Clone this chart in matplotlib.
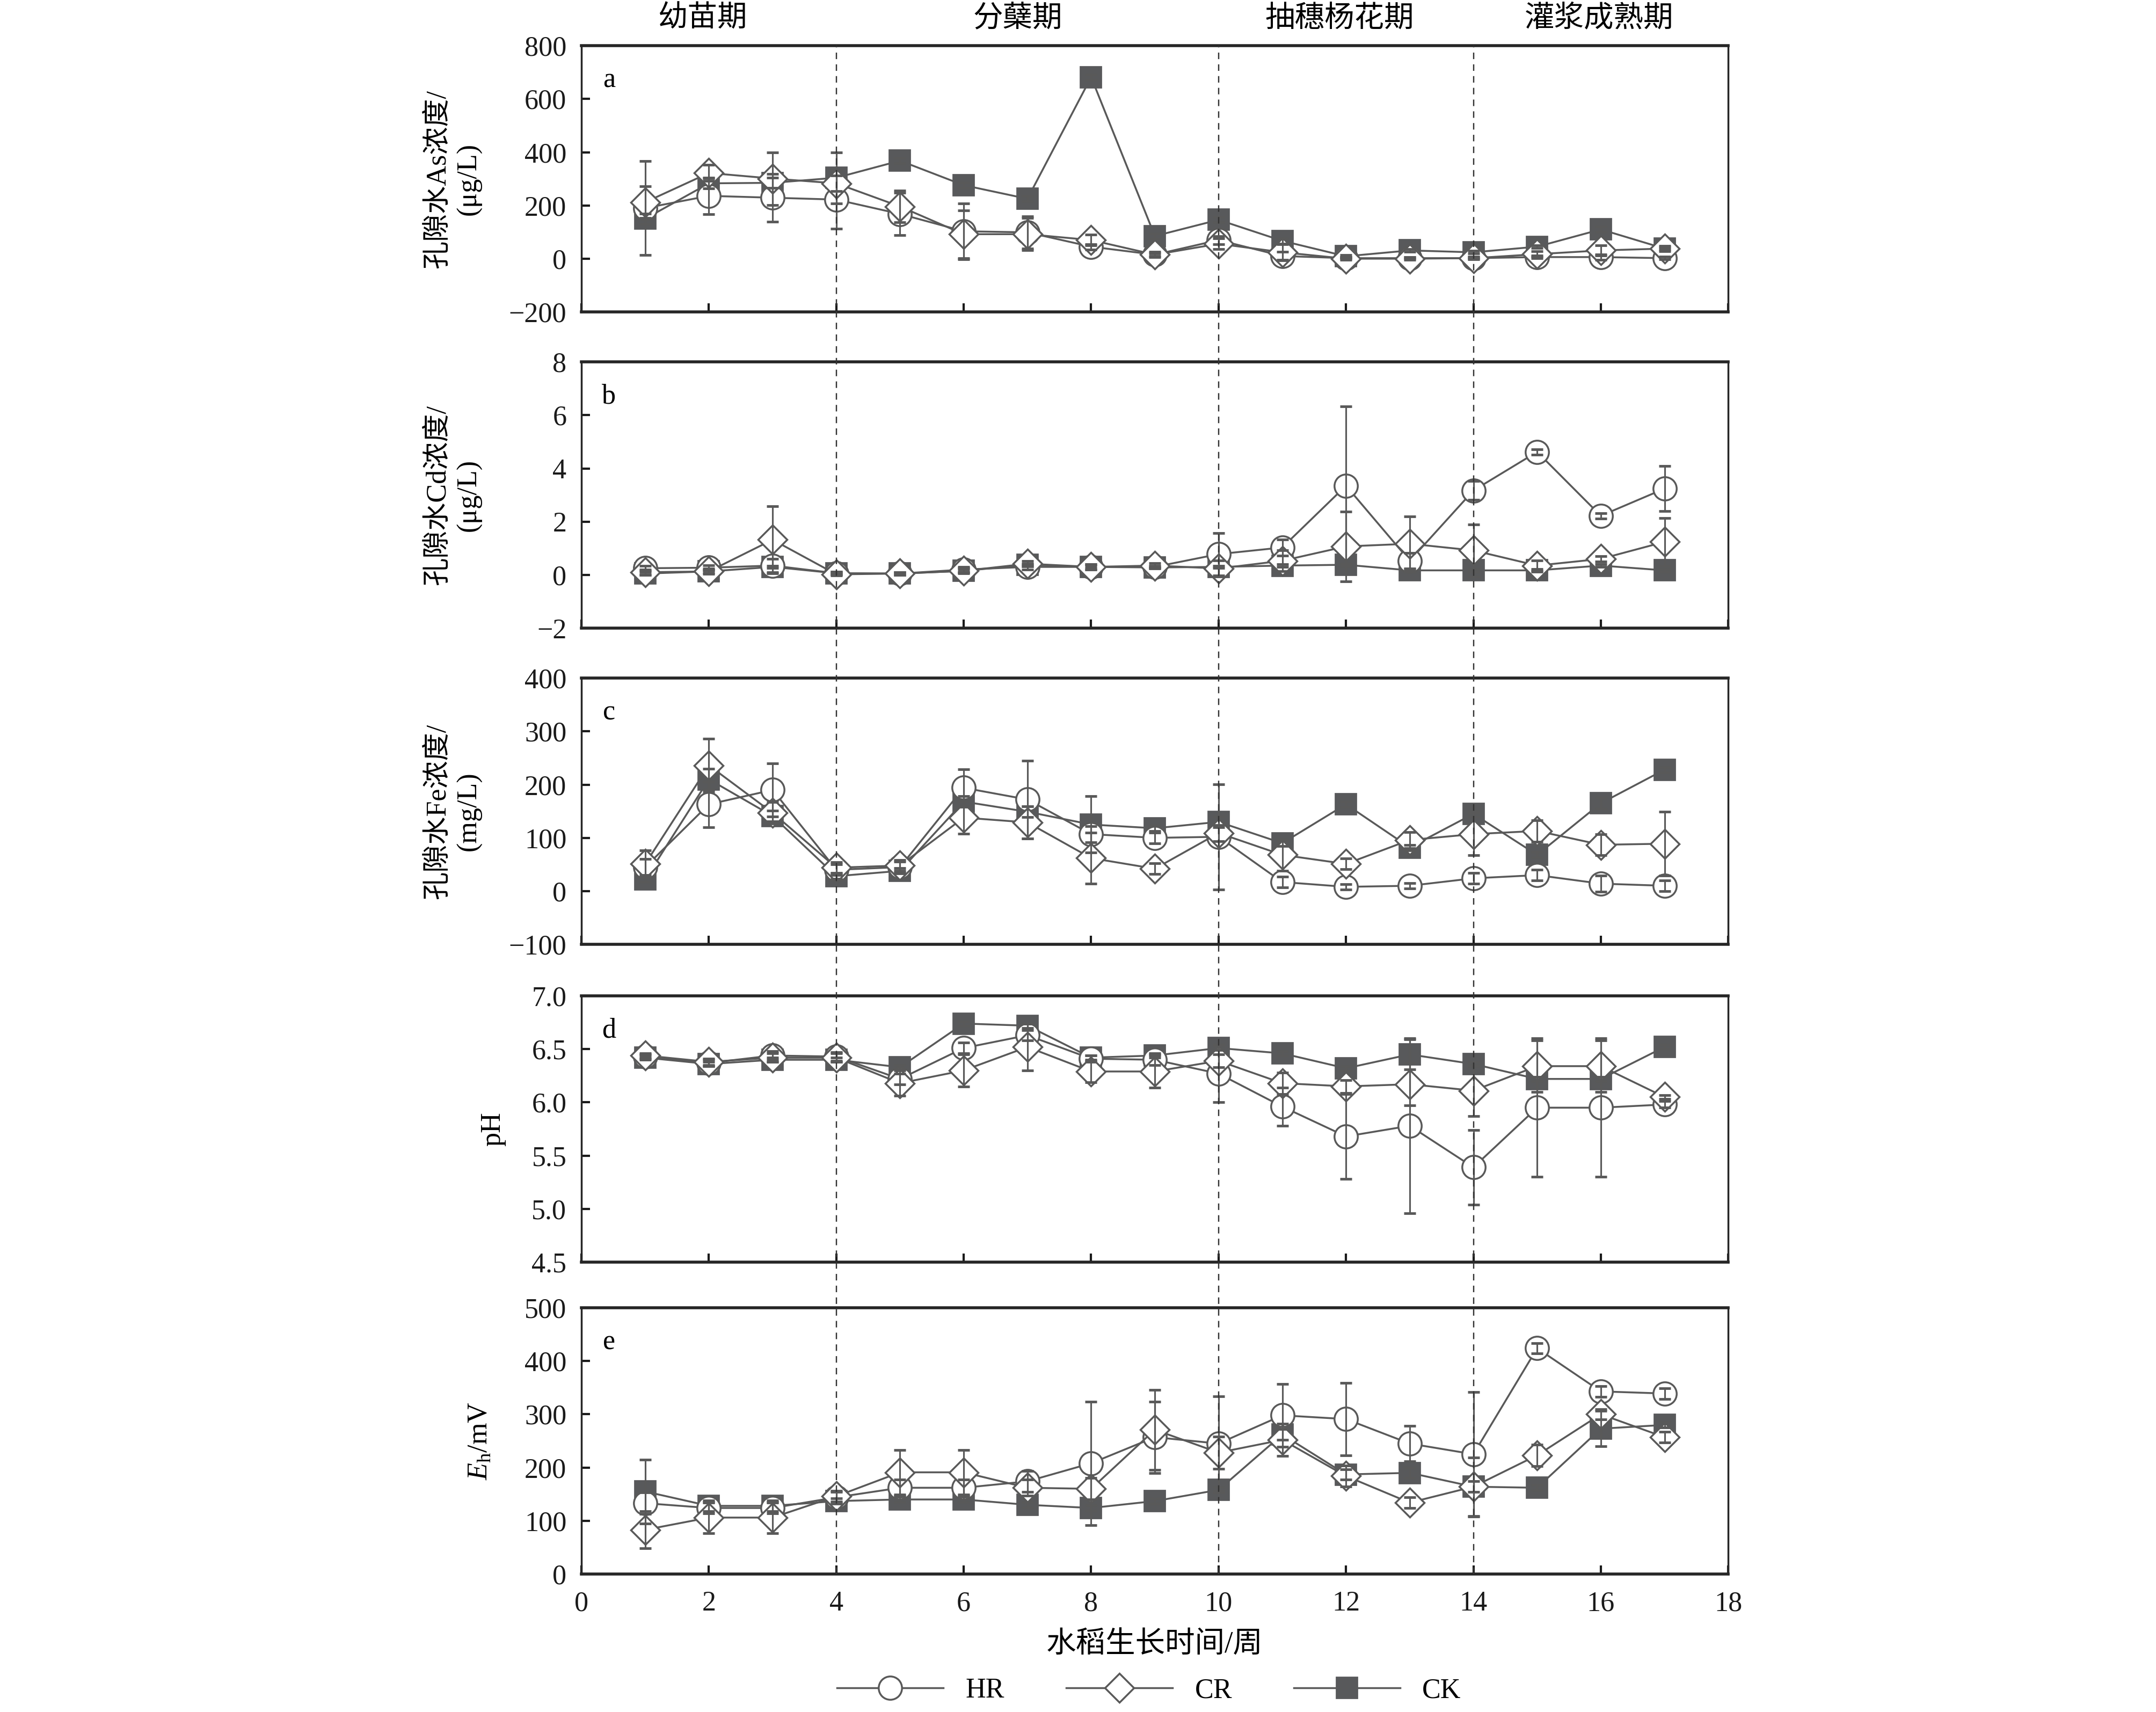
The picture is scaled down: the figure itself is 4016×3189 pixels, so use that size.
import matplotlib
matplotlib.use('Agg')
import matplotlib.pyplot as plt
import matplotlib.transforms as mtransforms
from matplotlib.lines import Line2D
import numpy as np

plt.rcParams['font.family'] = ['Liberation Serif', 'Noto Sans CJK SC']
plt.rcParams['mathtext.fontset'] = 'custom'
plt.rcParams['mathtext.rm'] = 'Liberation Serif'
plt.rcParams['mathtext.it'] = 'Liberation Serif:italic'
plt.rcParams['axes.unicode_minus'] = True

# ---- data ----
weeks = np.arange(1, 18)
stage_names = ['幼苗期', '分蘖期', '抽穗杨花期', '灌浆成熟期']
stage_centers = [1.9, 6.85, 11.9, 15.97]
stage_bounds = [4, 10, 14]

# a: As (ug/L)
hr_a = [190, 236, 229, 222, 168, 103, 99, 45, 15, 70, 10, 2, 2, 2, 6, 6, 2]
cr_a = [212, 322, 301, 283, 196, 92, 92, 70, 15, 56, 24, 0, 0, 2, 17, 31, 38]
ck_a = [150, 283, 285, 304, 368, 276, 225, 682, 85, 146, 67, 9, 31, 24, 45, 110, 38]
hr_a_err = [176, 68, 90, 110, 80, 105, 60, 10, 5, 15, 15, 3, 3, 3, 5, 10, 5]
cr_a_err = [60, 30, 99, 30, 60, 90, 60, 20, 10, 20, 30, 5, 5, 5, 10, 20, 10]
ck_a_err = [20, 20, 20, 96, 10, 10, 10, 10, 10, 10, 10, 5, 5, 5, 5, 10, 5]

# b: Cd (ug/L)
hr_b = [0.25, 0.27, 0.35, 0.06, 0.05, 0.20, 0.30, 0.30, 0.30, 0.78, 1.03, 3.35, 0.53, 3.17, 4.62, 2.22, 3.24]
cr_b = [0.10, 0.13, 1.32, 0.02, 0.05, 0.15, 0.42, 0.30, 0.35, 0.24, 0.53, 1.07, 1.17, 0.92, 0.35, 0.60, 1.24]
ck_b = [0.05, 0.13, 0.30, 0.06, 0.05, 0.15, 0.38, 0.30, 0.28, 0.30, 0.35, 0.38, 0.17, 0.17, 0.17, 0.35, 0.17]
hr_b_err = [0.10, 0.10, 0.25, 0.05, 0.05, 0.10, 0.10, 0.10, 0.05, 0.80, 0.30, 2.97, 0.30, 0.35, 0.10, 0.10, 0.85]
cr_b_err = [0.10, 0.10, 1.26, 0.05, 0.05, 0.10, 0.10, 0.10, 0.10, 0.30, 0.40, 1.31, 1.03, 0.98, 0.20, 0.10, 0.90]
ck_b_err = [0.05] * 17

# c: Fe (mg/L)
hr_c = [45, 163, 190, 40, 45, 194, 172, 107, 100, 102, 17, 8, 10, 24, 30, 14, 10]
cr_c = [51, 236, 147, 44, 48, 138, 129, 62, 42, 109, 68, 51, 96, 107, 113, 87, 89]
ck_c = [22, 210, 141, 28, 38, 168, 149, 125, 118, 130, 90, 163, 82, 145, 68, 165, 228]
hr_c_err = [15, 43, 50, 10, 10, 35, 73, 15, 10, 99, 10, 5, 5, 10, 10, 15, 10]
cr_c_err = [25, 50, 20, 10, 10, 30, 30, 48, 10, 15, 30, 10, 15, 40, 20, 20, 60]
ck_c_err = [5, 20, 10, 5, 5, 10, 10, 53, 5, 10, 5, 5, 5, 5, 5, 10, 5]

# d: pH
hr_d = [6.43, 6.37, 6.44, 6.43, 6.22, 6.51, 6.63, 6.41, 6.40, 6.27, 5.96, 5.68, 5.78, 5.39, 5.95, 5.95, 5.98]
cr_d = [6.44, 6.38, 6.42, 6.42, 6.18, 6.30, 6.52, 6.29, 6.29, 6.39, 6.18, 6.15, 6.17, 6.11, 6.34, 6.34, 6.05]
ck_d = [6.42, 6.36, 6.40, 6.40, 6.33, 6.74, 6.72, 6.42, 6.44, 6.51, 6.46, 6.32, 6.45, 6.36, 6.22, 6.22, 6.52]
hr_d_err = [0.02, 0.03, 0.04, 0.04, 0.05, 0.05, 0.05, 0.03, 0.05, 0.27, 0.18, 0.40, 0.82, 0.35, 0.65, 0.65, 0.03]
cr_d_err = [0.02, 0.03, 0.04, 0.04, 0.12, 0.15, 0.22, 0.10, 0.15, 0.06, 0.10, 0.06, 0.20, 0.24, 0.24, 0.24, 0.02]
ck_d_err = [0.02, 0.02, 0.02, 0.02, 0.02, 0.02, 0.02, 0.02, 0.02, 0.02, 0.02, 0.02, 0.14, 0.02, 0.02, 0.02, 0.02]

# e: Eh (mV)
hr_e = [133, 124, 124, 144, 162, 162, 174, 208, 257, 245, 298, 291, 245, 225, 424, 343, 339]
cr_e = [83, 106, 106, 146, 191, 191, 162, 160, 271, 228, 252, 184, 134, 164, 223, 300, 257]
ck_e = [155, 128, 128, 137, 140, 140, 130, 124, 137, 158, 262, 187, 190, 164, 162, 273, 280]
hr_e_err = [20, 10, 10, 10, 15, 15, 20, 116, 67, 89, 59, 68, 33, 117, 10, 10, 10]
cr_e_err = [35, 29, 29, 10, 42, 42, 15, 20, 75, 30, 30, 20, 10, 55, 20, 10, 10]
ck_e_err = [60, 10, 10, 5, 5, 5, 5, 5, 5, 5, 10, 10, 10, 10, 5, 33, 5]

panels = [
    ('a', '孔隙水As浓度/\n(μg/L)', (-200, 800), np.arange(-200, 801, 200), '{:.0f}',
     (hr_a, cr_a, ck_a), (hr_a_err, cr_a_err, ck_a_err), -0.087),
    ('b', '孔隙水Cd浓度/\n(μg/L)', (-2, 8), np.arange(-2, 9, 2), '{:.0f}',
     (hr_b, cr_b, ck_b), (hr_b_err, cr_b_err, ck_b_err), -0.087),
    ('c', '孔隙水Fe浓度/\n(mg/L)', (-100, 400), np.arange(-100, 401, 100), '{:.0f}',
     (hr_c, cr_c, ck_c), (hr_c_err, cr_c_err, ck_c_err), -0.087),
    ('d', 'pH', (4.5, 7.0), np.arange(4.5, 7.01, 0.5), '{:.1f}',
     (hr_d, cr_d, ck_d), (hr_d_err, cr_d_err, ck_d_err), -0.066),
    ('e', r'$E_\mathrm{h}$/mV', (0, 500), np.arange(0, 501, 100), '{:.0f}',
     (hr_e, cr_e, ck_e), (hr_e_err, cr_e_err, ck_e_err), -0.077),
]

gray = '#595959'
fill = '#58595b'
styles = {
    'HR': dict(marker='o', markersize=12.5, markerfacecolor='white', markeredgecolor=gray, markeredgewidth=1.0),
    'CR': dict(marker='D', markersize=11, markerfacecolor='white', markeredgecolor=gray, markeredgewidth=1.0),
    'CK': dict(marker='s', markersize=11.5, markerfacecolor=fill, markeredgecolor=fill, markeredgewidth=0.5),
}
order = ['CK', 'HR', 'CR']  # draw CK first, CR on top
idx = {'HR': 0, 'CR': 1, 'CK': 2}

fig = plt.figure(figsize=(16.064, 12.756), dpi=250)
left, width, height = 0.2697, 0.5319, 0.1555
bottoms = [0.8178, 0.6331, 0.4484, 0.2628, 0.0806]

axes = []
for i, (letter, ylabel, ylim, yticks, fmt, series, errs, ylab_x) in enumerate(panels):
    ax = fig.add_axes([left, bottoms[i], width, height])
    axes.append(ax)
    for z, name in enumerate(order):
        k = idx[name]
        ax.plot(weeks, series[k], color=gray, linewidth=1.0, zorder=2 + z, **styles[name])
    for name in order:
        k = idx[name]
        ax.errorbar(weeks, series[k], yerr=errs[k], fmt='none', ecolor=gray,
                    elinewidth=0.9, capsize=3.2, capthick=1.4, zorder=6)
    ax.set_xlim(0, 18)
    ax.set_ylim(*ylim)
    ax.set_xticks(np.arange(0, 19, 2))
    ax.set_yticks(yticks)
    ax.set_yticklabels([fmt.format(v).replace('-', '\u2212') for v in yticks])
    ax.tick_params(direction='in', length=4.5, width=1.2, labelsize=15, pad=8, colors='#1a1a1a')
    ax.tick_params(axis='x', pad=9)
    if i < 4:
        ax.tick_params(axis='x', labelbottom=False)
    for s in ['left', 'right']:
        ax.spines[s].set_linewidth(1.0)
    for s in ['top', 'bottom']:
        ax.spines[s].set_linewidth(1.6)
    for s in ax.spines.values():
        s.set_color('#262626')
    ax.set_ylabel(ylabel, fontsize=15, linespacing=1.25)
    ax.yaxis.set_label_coords(ylab_x, 0.5)
    ax.text(0.024, 0.87, letter, transform=ax.transAxes, fontsize=15, va='center', ha='center')

# stage boundary lines across all panels
top_y = bottoms[0] + height
bot_y = bottoms[-1]
trans = mtransforms.blended_transform_factory(axes[-1].transData, fig.transFigure)
for xb in stage_bounds:
    fig.add_artist(Line2D([xb, xb], [bot_y, top_y], transform=trans, color='#333333',
                          linewidth=0.7, linestyle=(0, (5, 4))))

for name, xc in zip(stage_names, stage_centers):
    fig.text(xc, 0.989, name, transform=trans, ha='center', va='center', fontsize=16)

axes[-1].set_xlabel('水稻生长时间/周', fontsize=16, labelpad=8)

handles = [Line2D([], [], color=gray, linewidth=1.0, **styles[n]) for n in ['HR', 'CR', 'CK']]
fig.legend(handles, ['HR', 'CR', 'CK'], loc='center', bbox_to_anchor=(0.533, 0.0125),
           ncol=3, frameon=False, fontsize=15, handlelength=3.8, columnspacing=2.2,
           handletextpad=0.8)

fig.savefig('out.png', dpi=250)
